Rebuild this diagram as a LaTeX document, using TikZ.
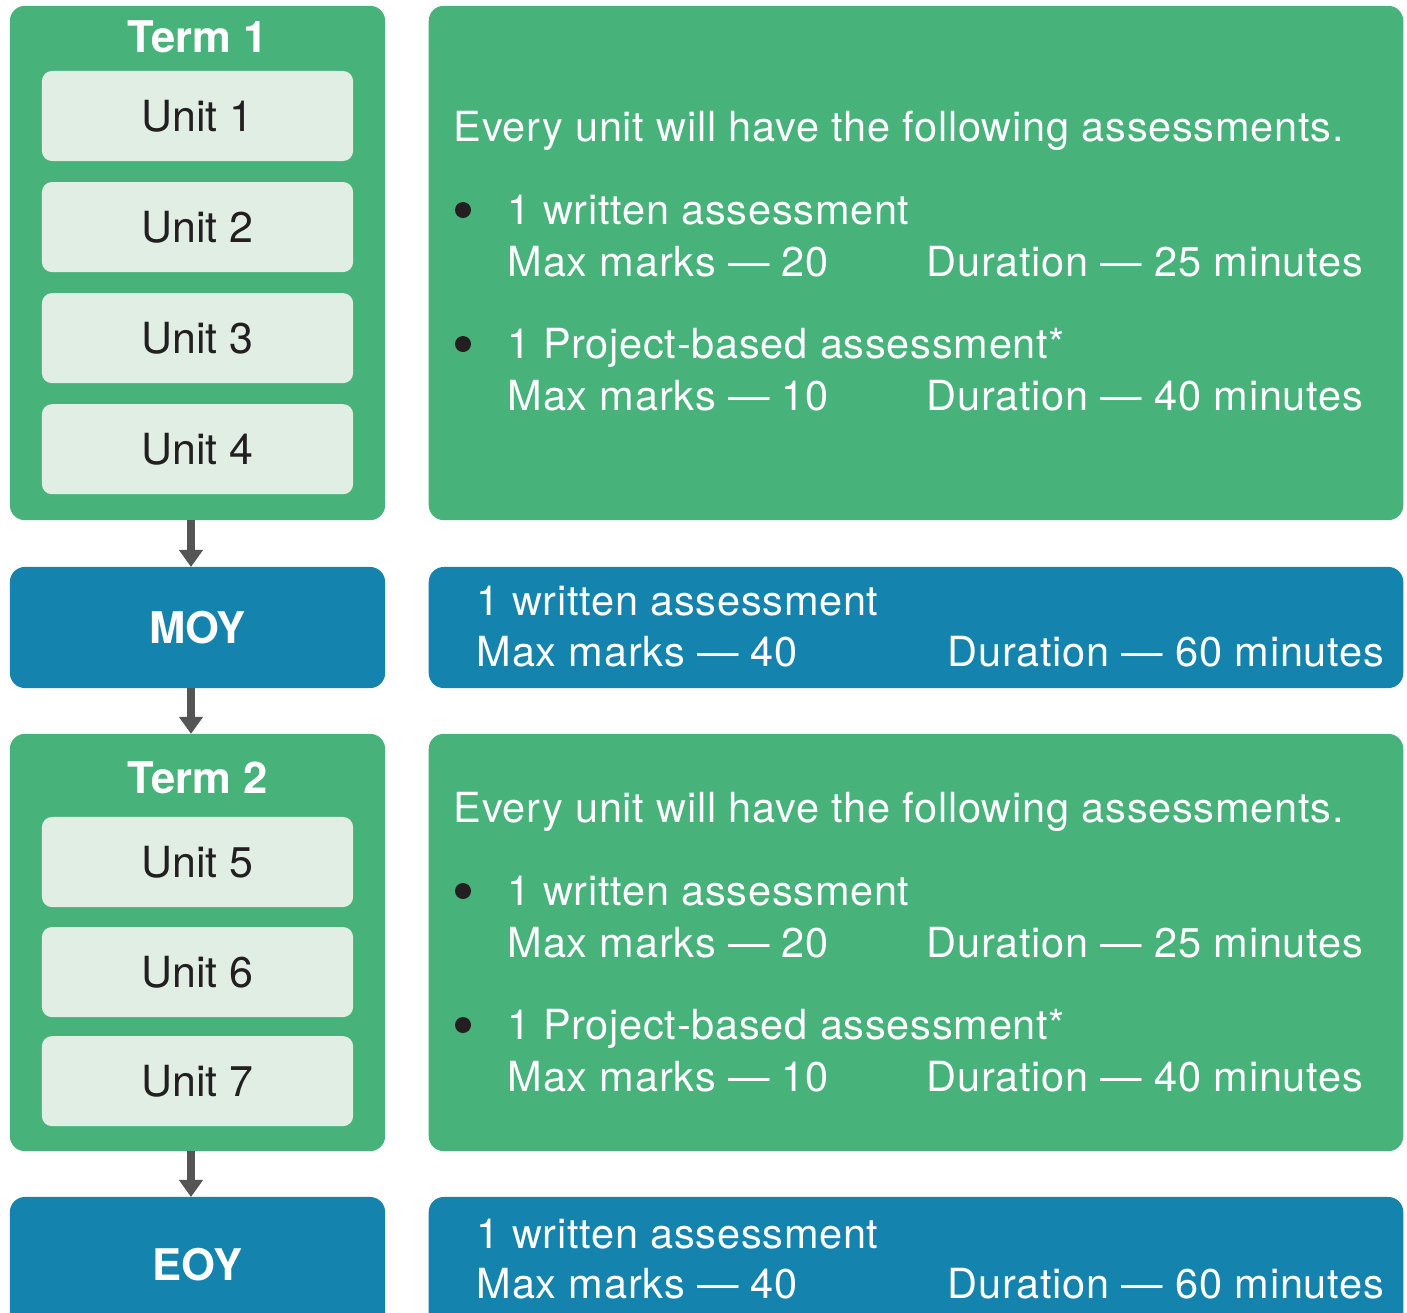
\documentclass[tikz,border=0pt]{standalone}
\usepackage{fontspec}
\setmainfont{TeX Gyre Heros}
\newfontfamily\infofont[LetterSpace=1.8]{TeX Gyre Heros}
\usepackage{xcolor}
\usetikzlibrary{arrows.meta,positioning}

\definecolor{termgreen}{HTML}{47B27A}
\definecolor{examblue}{HTML}{1483AE}
\definecolor{unitfill}{HTML}{E0EEE4}
\definecolor{inkdark}{HTML}{231F20}
\definecolor{arrowgray}{HTML}{555555}

\begin{document}
\begin{tikzpicture}[
    x=0.01cm, y=-0.01cm,
    node distance=0.21cm,
    termbox/.style={rectangle, fill=termgreen, rounded corners=0.15cm, minimum width=3.75cm, inner sep=0pt, outer sep=0pt},
    infobox/.style={rectangle, rounded corners=0.15cm, minimum width=9.74cm, inner sep=0pt, outer sep=0pt},
    unitbox/.style={rectangle, fill=unitfill, rounded corners=0.1cm, minimum width=3.11cm, minimum height=0.9cm, inner sep=0pt, outer sep=0pt, text=inkdark, font=\fontsize{12.2}{14}\selectfont},
    termtitle/.style={inner sep=0pt, text=white, font=\fontsize{12.4}{14}\selectfont\bfseries},
    infotext/.style={anchor=base west, inner sep=0pt, text=white, font=\infofont\fontsize{11.8}{14}\selectfont},
    bulletdot/.style={circle, fill=inkdark, minimum size=0.16cm, inner sep=0pt},
    arrow/.style={line width=0.08cm, arrowgray, -{Triangle[width=0.23cm,length=0.17cm]}}
]
\clip (0,0) rectangle (1407,1312);

% Term 1
\node[termbox, minimum height=5.14cm] (term1) at (197.5,263) {};
\node[termtitle, anchor=base] (term1title) at (197.5,52) {Term 1};
\node[unitbox] (unit1) at (197.5,116) {Unit 1};
\node[unitbox, below=of unit1] (unit2) {Unit 2};
\node[unitbox, below=of unit2] (unit3) {Unit 3};
\node[unitbox, below=of unit3] (unit4) {Unit 4};

% Term 1 assessments
\node[infobox, fill=termgreen, minimum height=5.14cm] (info1) at (916,263) {};
\node[infotext] (every1) at (453,141) {Every unit will have the following assessments.};
\node[bulletdot] (dot1a) at (463,210) {};
\node[infotext] (written1) at (507,224) {1 written assessment};
\node[infotext] (marks1a) at (507,276) {Max marks — 20};
\node[infotext] (dur1a) at (926,276) {Duration — 25 minutes};
\node[bulletdot] (dot1b) at (463,344) {};
\node[infotext] (project1) at (507,358) {1 Project-based assessment*};
\node[infotext] (marks1b) at (507,410) {Max marks — 10};
\node[infotext] (dur1b) at (926,410) {Duration — 40 minutes};

% MOY
\node[termbox, fill=examblue, minimum height=1.21cm, termtitle] (moy) at (197.5,627.5) {MOY};
\node[infobox, fill=examblue, minimum height=1.21cm] (info2) at (916,627.5) {};
\node[infotext] (written2) at (476,615) {1 written assessment};
\node[infotext] (marks2) at (476,666) {Max marks — 40};
\node[infotext] (dur2) at (947,666) {Duration — 60 minutes};

% Term 2
\node[termbox, minimum height=4.17cm] (term2) at (197.5,942.5) {};
\node[termtitle, anchor=base] (term2title) at (197.5,793) {Term 2};
\node[unitbox] (unit5) at (197.5,862) {Unit 5};
\node[unitbox, below=0.2cm of unit5] (unit6) {Unit 6};
\node[unitbox, below=0.19cm of unit6] (unit7) {Unit 7};

% Term 2 assessments
\node[infobox, fill=termgreen, minimum height=4.17cm] (info3) at (916,942.5) {};
\node[infotext] (every3) at (453,822) {Every unit will have the following assessments.};
\node[bulletdot] (dot3a) at (463,891) {};
\node[infotext] (written3) at (507,905) {1 written assessment};
\node[infotext] (marks3a) at (507,957) {Max marks — 20};
\node[infotext] (dur3a) at (926,957) {Duration — 25 minutes};
\node[bulletdot] (dot3b) at (463,1025) {};
\node[infotext] (project3) at (507,1039) {1 Project-based assessment*};
\node[infotext] (marks3b) at (507,1091) {Max marks — 10};
\node[infotext] (dur3b) at (926,1091) {Duration — 40 minutes};

% EOY
\node[termbox, fill=examblue, minimum height=1.36cm, termtitle] (eoy) at (197.5,1265) {EOY};
\node[infobox, fill=examblue, minimum height=1.36cm] (info4) at (916,1265) {};
\node[infotext] (written4) at (476,1248) {1 written assessment};
\node[infotext] (marks4) at (476,1298) {Max marks — 40};
\node[infotext] (dur4) at (947,1298) {Duration — 60 minutes};

% Arrows
\draw[arrow] ([xshift=-0.065cm]term1.south) -- ([xshift=-0.065cm]moy.north);
\draw[arrow] ([xshift=-0.065cm]moy.south) -- ([xshift=-0.065cm]term2.north);
\draw[arrow] ([xshift=-0.065cm]term2.south) -- ([xshift=-0.065cm]eoy.north);

\end{tikzpicture}
\end{document}
